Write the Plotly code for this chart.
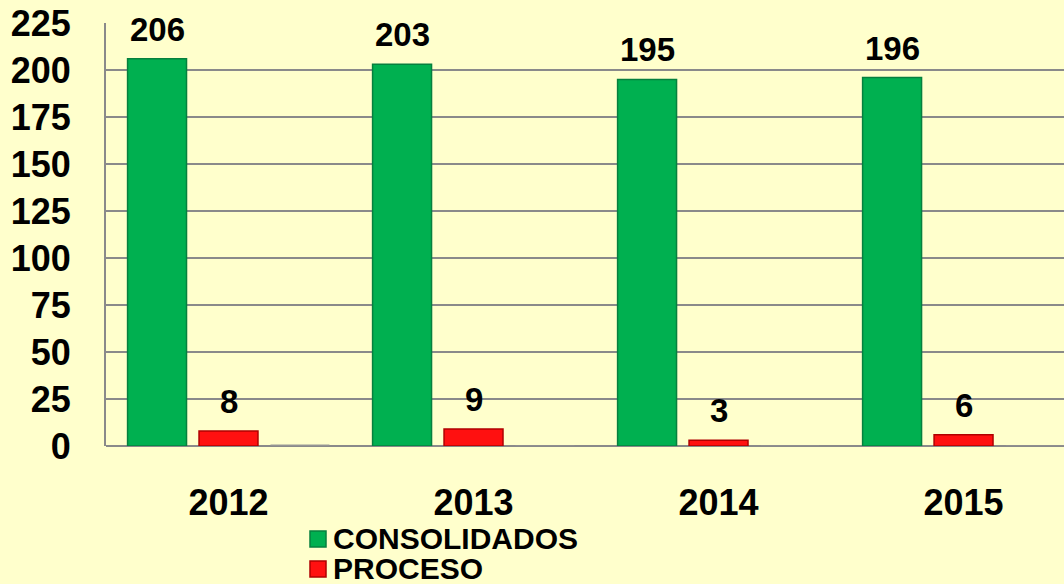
import plotly.graph_objects as go

years = ["2012", "2013", "2014", "2015"]
consolidados = [206, 203, 195, 196]
proceso = [8, 9, 3, 6]
otros = [0.5, 0, 0, 0]

y_ticks = [0, 25, 50, 75, 100, 125, 150, 175, 200, 225]

series_names = ["CONSOLIDADOS", "PROCESO"]
series_colors = ["#00B050", "#FF1010"]
series_borders = ["#06803E", "#B00000"]

FONT = "Arial, Liberation Sans, sans-serif"
BG = "#FFFFCC"

W, H = 1064, 584
ML, MR, MT, MB = 106, 0, 23, 138
PW, PH = W - ML - MR, H - MT - MB

xs = list(range(len(years)))

fig = go.Figure()
fig.add_trace(go.Bar(x=xs, y=consolidados, name=series_names[0], showlegend=False,
                     marker=dict(color=series_colors[0], line=dict(color=series_borders[0], width=1.5))))
fig.add_trace(go.Bar(x=xs, y=proceso, name=series_names[1], showlegend=False,
                     marker=dict(color=series_colors[1], line=dict(color=series_borders[1], width=1.5))))
fig.add_trace(go.Bar(x=xs, y=otros, name="OTROS", showlegend=False,
                     marker=dict(color="#A0A0A0", line=dict(color="#909090", width=1))))

bargap = 0.125
slot = (1 - bargap) / 3
for vals, off in ((consolidados, -slot), (proceso, 0.0)):
    for i, v in enumerate(vals):
        fig.add_annotation(x=i + off, y=v, text=f"<b>{v}</b>", showarrow=False,
                           yanchor="bottom", yshift=9,
                           font=dict(family=FONT, size=33, color="black"))

# manual legend (pixel positions converted to paper coordinates)
def px_x(px):
    return (px - ML) / PW

def px_y(py):
    return (H - MB - py) / PH

leg_rows = [538, 568]
for name, col, bcol, cy in zip(series_names, series_colors, series_borders, leg_rows):
    fig.add_shape(type="rect", xref="paper", yref="paper",
                  x0=px_x(310), x1=px_x(326), y0=px_y(cy + 9), y1=px_y(cy - 7),
                  fillcolor=col, line=dict(color=bcol, width=1.5))
    fig.add_annotation(xref="paper", yref="paper", x=px_x(331), y=px_y(cy),
                       xanchor="left", yanchor="middle", showarrow=False,
                       text=f"<b>{name}</b>", height=27, valign="middle",
                       font=dict(family=FONT, size=30, color="black"))

fig.update_layout(
    width=W, height=H,
    paper_bgcolor=BG, plot_bgcolor=BG,
    margin=dict(l=ML, r=MR, t=MT, b=MB, autoexpand=False),
    barmode="group", bargap=bargap, bargroupgap=0.175,
    font=dict(family=FONT, color="black"),
    showlegend=False,
)
fig.update_xaxes(
    tickmode="array", tickvals=xs, ticktext=[f"<b>{y}</b>" for y in years],
    range=[-0.5, 3.41], showgrid=False, zeroline=False, showline=False,
    tickfont=dict(family=FONT, size=36, color="black"), ticks="", ticklabelstandoff=32,
)
fig.update_yaxes(
    range=[0, 225], tickmode="array", tickvals=y_ticks,
    ticktext=[f"<b>{t}</b>" for t in y_ticks],
    showgrid=True, gridcolor="#8A8A8A", gridwidth=2,
    zeroline=True, zerolinecolor="#8A8A8A", zerolinewidth=2,
    showline=True, linecolor="#8A8A8A", linewidth=2,
    tickfont=dict(family=FONT, size=36, color="black"), ticks="", ticklabelstandoff=26,
)

fig.write_html("out.html", config={"displayModeBar": False},
               post_script="document.body.style.margin='0';document.body.style.overflow='hidden';")
